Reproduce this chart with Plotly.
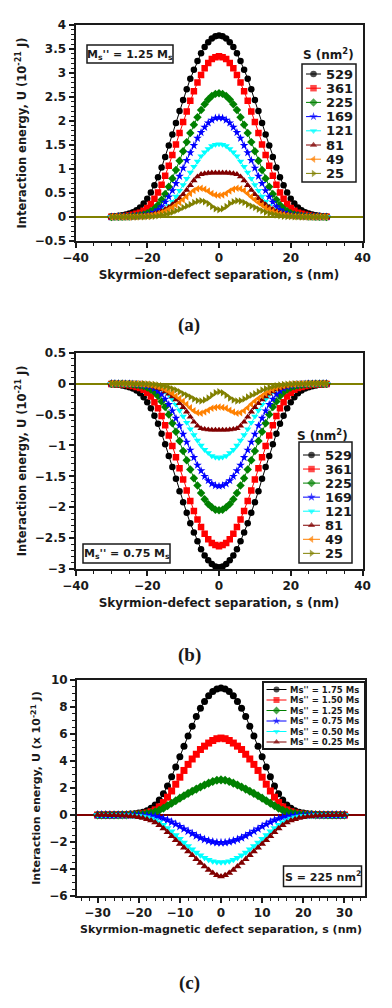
import plotly.graph_objects as go

# separation s (nm); every curve is symmetric in s, so each list holds U for s = 0..30
s = list(range(-30, 31))

sizes = ["529", "361", "225", "169", "121", "81", "49", "25"]
ms_labels = ["1.75", "1.50", "1.25", "0.75", "0.50", "0.25"]

# (a) Ms'' = 1.25 Ms
a_529 = [3.78, 3.765, 3.72, 3.64, 3.54, 3.41, 3.25, 3.07, 2.88, 2.66, 2.44, 2.21, 1.96, 1.72, 1.49, 1.25,
         1.03, 0.83, 0.66, 0.51, 0.38, 0.28, 0.20, 0.14, 0.10, 0.075, 0.053, 0.038, 0.026, 0.018, 0.012]
a_361 = [3.35, 3.33, 3.29, 3.21, 3.10, 2.96, 2.80, 2.62, 2.42, 2.20, 1.98, 1.75, 1.51, 1.29, 1.07, 0.86,
         0.67, 0.51, 0.38, 0.27, 0.19, 0.13, 0.09, 0.067, 0.047, 0.033, 0.023, 0.016, 0.012, 0.008, 0.006]
a_225 = [2.58, 2.565, 2.52, 2.45, 2.35, 2.23, 2.08, 1.92, 1.75, 1.56, 1.37, 1.17, 0.98, 0.80, 0.63, 0.48,
         0.36, 0.25, 0.17, 0.12, 0.08, 0.054, 0.038, 0.026, 0.018, 0.010, 0.008, 0.005, 0.004, 0.003, 0.002]
a_169 = [2.07, 2.06, 2.02, 1.96, 1.87, 1.76, 1.64, 1.49, 1.34, 1.18, 1.02, 0.85, 0.70, 0.55, 0.42, 0.31,
         0.215, 0.147, 0.097, 0.066, 0.043, 0.029, 0.020, 0.014, 0.008, 0.006, 0.004, 0.003, 0.002, 0.001, 0.001]
a_121 = [1.52, 1.51, 1.48, 1.42, 1.35, 1.27, 1.16, 1.05, 0.93, 0.80, 0.67, 0.55, 0.43, 0.32, 0.23, 0.16,
         0.106, 0.070, 0.046, 0.030, 0.020, 0.012, 0.008, 0.005, 0.003, 0.002, 0.001, 0.001, 0.0, 0.0, 0.0]
a_81 = [0.92, 0.92, 0.92, 0.915, 0.905, 0.89, 0.84, 0.76, 0.66, 0.56, 0.47, 0.39, 0.32, 0.26, 0.205, 0.16,
        0.12, 0.088, 0.063, 0.044, 0.03, 0.02, 0.013, 0.008, 0.005, 0.003, 0.002, 0.001, 0.001, 0.0, 0.0]
a_49 = [0.45, 0.46, 0.49, 0.54, 0.58, 0.60, 0.59, 0.55, 0.49, 0.42, 0.36, 0.30, 0.25, 0.20, 0.16, 0.12,
        0.09, 0.065, 0.045, 0.03, 0.02, 0.013, 0.008, 0.005, 0.003, 0.002, 0.001, 0.0, 0.0, 0.0, 0.0]
a_25 = [0.15, 0.17, 0.22, 0.28, 0.32, 0.34, 0.33, 0.30, 0.26, 0.23, 0.20, 0.16, 0.13, 0.10, 0.075, 0.055,
        0.04, 0.028, 0.018, 0.012, 0.008, 0.005, 0.003, 0.002, 0.001, 0.0, 0.0, 0.0, 0.0, 0.0, 0.0]

# (b) Ms'' = 0.75 Ms
b_529 = [-2.97, -2.96, -2.92, -2.86, -2.78, -2.68, -2.55, -2.41, -2.26, -2.09, -1.92, -1.74, -1.54, -1.35,
         -1.17, -0.98, -0.81, -0.65, -0.52, -0.40, -0.30, -0.22, -0.157, -0.11, -0.079, -0.059, -0.042,
         -0.030, -0.020, -0.014, -0.009]
b_361 = [-2.63, -2.61, -2.58, -2.52, -2.43, -2.32, -2.20, -2.06, -1.90, -1.73, -1.55, -1.37, -1.19, -1.01,
         -0.84, -0.675, -0.526, -0.40, -0.30, -0.21, -0.15, -0.10, -0.071, -0.053, -0.037, -0.026, -0.018,
         -0.013, -0.009, -0.006, -0.005]
b_225 = [-2.05, -2.04, -2.00, -1.95, -1.87, -1.77, -1.65, -1.53, -1.39, -1.24, -1.09, -0.93, -0.78, -0.64,
         -0.50, -0.38, -0.29, -0.20, -0.135, -0.095, -0.064, -0.043, -0.030, -0.021, -0.014, -0.008, -0.006,
         -0.004, -0.003, -0.002, -0.002]
b_169 = [-1.66, -1.65, -1.62, -1.57, -1.50, -1.41, -1.32, -1.195, -1.075, -0.946, -0.818, -0.68, -0.56,
         -0.44, -0.337, -0.25, -0.172, -0.118, -0.078, -0.053, -0.034, -0.023, -0.016, -0.011, -0.006, -0.005,
         -0.003, -0.002, -0.002, -0.001, -0.001]
b_121 = [-1.20, -1.19, -1.17, -1.12, -1.07, -1.00, -0.92, -0.83, -0.735, -0.63, -0.53, -0.435, -0.34, -0.253,
         -0.18, -0.126, -0.084, -0.055, -0.036, -0.024, -0.016, -0.009, -0.006, -0.004, -0.002, -0.002,
         -0.001, -0.001, 0.0, 0.0, 0.0]
b_81 = [-0.75, -0.75, -0.75, -0.745, -0.738, -0.725, -0.685, -0.62, -0.54, -0.456, -0.383, -0.318, -0.26,
        -0.212, -0.167, -0.13, -0.098, -0.072, -0.051, -0.036, -0.024, -0.016, -0.011, -0.007, -0.004, -0.002,
        -0.002, -0.001, -0.001, 0.0, 0.0]
b_49 = [-0.38, -0.385, -0.40, -0.43, -0.46, -0.48, -0.47, -0.44, -0.39, -0.335, -0.285, -0.24, -0.20, -0.16,
        -0.128, -0.096, -0.072, -0.052, -0.036, -0.024, -0.016, -0.010, -0.006, -0.004, -0.002, -0.002,
        -0.001, 0.0, 0.0, 0.0, 0.0]
b_25 = [-0.13, -0.15, -0.19, -0.235, -0.265, -0.28, -0.275, -0.25, -0.215, -0.19, -0.165, -0.13, -0.105,
        -0.082, -0.062, -0.045, -0.033, -0.023, -0.015, -0.01, -0.007, -0.004, -0.002, -0.002, -0.001, 0.0,
        0.0, 0.0, 0.0, 0.0, 0.0]

# (c) S = 225 nm^2, varying Ms''
c_175 = [9.40, 9.34, 9.15, 8.84, 8.41, 7.90, 7.29, 6.58, 5.86, 5.09, 4.31, 3.55, 2.83, 2.14, 1.58, 1.12,
         0.75, 0.50, 0.32, 0.21, 0.14, 0.094, 0.066, 0.038, 0.028, 0.019, 0.013, 0.009, 0.006, 0.004, 0.002]
c_150 = [5.70, 5.65, 5.52, 5.33, 5.10, 4.85, 4.50, 4.15, 3.75, 3.30, 2.80, 2.28, 1.78, 1.32, 0.92, 0.60,
         0.38, 0.24, 0.15, 0.09, 0.06, 0.04, 0.03, 0.02, 0.014, 0.01, 0.006, 0.004, 0.002, 0.001, 0.0]
c_125 = [2.60, 2.57, 2.48, 2.36, 2.22, 2.07, 1.92, 1.76, 1.60, 1.43, 1.25, 1.06, 0.87, 0.68, 0.50, 0.35,
         0.23, 0.15, 0.10, 0.06, 0.04, 0.025, 0.016, 0.01, 0.007, 0.005, 0.003, 0.002, 0.001, 0.001, 0.0]
c_075 = [-2.05, -2.04, -1.99, -1.91, -1.81, -1.69, -1.54, -1.38, -1.20, -1.03, -0.85, -0.68, -0.52, -0.38,
         -0.27, -0.18, -0.11, -0.072, -0.045, -0.031, -0.021, -0.012, -0.008, -0.006, -0.004, -0.003, -0.002,
         -0.001, -0.001, 0.0, 0.0]
c_050 = [-3.50, -3.48, -3.42, -3.31, -3.17, -2.99, -2.78, -2.54, -2.29, -2.03, -1.75, -1.48, -1.21, -0.96,
         -0.73, -0.54, -0.385, -0.26, -0.175, -0.115, -0.077, -0.056, -0.035, -0.025, -0.014, -0.010, -0.007,
         -0.005, -0.003, -0.002, -0.001]
c_025 = [-4.55, -4.47, -4.30, -4.08, -3.82, -3.55, -3.27, -2.99, -2.71, -2.43, -2.15, -1.87, -1.58, -1.28,
         -1.00, -0.76, -0.56, -0.41, -0.31, -0.23, -0.17, -0.12, -0.085, -0.06, -0.04, -0.028, -0.019, -0.013,
         -0.008, -0.005, -0.003]


def mirror(h):
    return h[:0:-1] + h


colors = ["#000000", "#ff0000", "#008000", "#0000ff", "#00ffff", "#800000", "#ff8000", "#808000"]
symbols = ["circle", "square", "diamond", "star", "triangle-down", "triangle-up", "triangle-left", "triangle-right"]
FONT = "DejaVu Sans"
INK = "#1a1a1a"

fig = go.Figure()

panels = [
    ("x", "y", [a_529, a_361, a_225, a_169, a_121, a_81, a_49, a_25], 6.5),
    ("x2", "y2", [b_529, b_361, b_225, b_169, b_121, b_81, b_49, b_25], 6.5),
    ("x3", "y3", [c_175, c_150, c_125, c_075, c_050, c_025], 7),
]
for xa, ya, series, msz in panels:
    for h, col, sym in zip(series, colors, symbols):
        fig.add_trace(go.Scatter(
            x=s, y=mirror(h), xaxis=xa, yaxis=ya, mode="lines+markers",
            line=dict(color=col, width=1),
            marker=dict(symbol=sym, size=msz, color=col, line=dict(width=0)),
            showlegend=False, hoverinfo="skip"))

# the page body keeps its default 8px margin, so the figure is drawn inside it
OFF = 8
W, H = 392 - 2 * OFF, 1008 - 2 * OFF


def px_dom_x(x0, x1):
    return [(x0 - OFF) / W, (x1 - OFF) / W]


def px_dom_y(y0, y1):
    return [1 - (y1 - OFF) / H, 1 - (y0 - OFF) / H]


tickfont = dict(family=FONT, size=12, color=INK, weight="bold")


def axis(dom, rng, dtick, mdtick, title, tsize, zcolor=None):
    d = dict(domain=dom, range=rng, dtick=dtick, showline=True, linecolor=INK, linewidth=2,
             mirror=True, ticks="outside", ticklen=5, tickwidth=1.5, tickcolor=INK, showgrid=False,
             tickfont=tickfont, automargin=False,
             title=dict(text=title, standoff=6, font=dict(family=FONT, size=tsize, color=INK, weight="bold")),
             minor=dict(dtick=mdtick, ticks="outside", ticklen=3, tickwidth=1, tickcolor=INK, showgrid=False),
             zeroline=zcolor is not None, fixedrange=True)
    if zcolor:
        d["zerolinecolor"] = zcolor
        d["zerolinewidth"] = 1.5
    return d


ytitle = "Interaction energy, U (10<sup>-21</sup> J)"
xtitle = "Skyrmion-defect separation, s (nm)"
fig.update_layout(
    xaxis=dict(axis(px_dom_x(75.5, 362.5), [-40, 40], 20, 5, xtitle, 12), anchor="y"),
    yaxis=dict(axis(px_dom_y(25, 241), [-0.5, 4], 0.5, 0.1, ytitle, 11.5, "#808000"), anchor="x"),
    xaxis2=dict(axis(px_dom_x(75.5, 362.5), [-40, 40], 20, 5, xtitle, 12), anchor="y2"),
    yaxis2=dict(axis(px_dom_y(352.7, 569), [-3, 0.5], 0.5, 0.1, ytitle, 11.5, "#808000"), anchor="x2"),
    xaxis3=dict(axis(px_dom_x(77, 365), [-35, 35], 10, 2, "Skyrmion-magnetic defect separation, s (nm)", 11), anchor="y3"),
    yaxis3=dict(axis(px_dom_y(680, 896), [-6, 10], 2, 0.5, "Interaction energy, U (x 10<sup>-21</sup> J)", 11, "#800000"), anchor="x3"),
    # overlay in page-pixel coordinates for legends, boxes and panel labels
    xaxis4=dict(domain=[0, 1], range=[OFF, OFF + W], visible=False, anchor="y4", fixedrange=True, automargin=False),
    yaxis4=dict(domain=[0, 1], range=[OFF + H, OFF], visible=False, anchor="x4", fixedrange=True, automargin=False),
)

shapes = []
annotations = []


def label(x, y, text, size, anchor="center", family=FONT):
    annotations.append(dict(x=x, y=y, xref="x4", yref="y4", text=text, showarrow=False,
                            xanchor=anchor, yanchor="middle",
                            font=dict(family=family, size=size, color=INK, weight="bold")))


def box(x0, y0, x1, y1, width=1.5):
    shapes.append(dict(type="rect", xref="x4", yref="y4", x0=x0, y0=y0, x1=x1, y1=y1,
                       line=dict(color=INK, width=width), fillcolor="rgba(255,255,255,0)"))


def legend(labels, cols, syms, lx0, lx1, tx, y0, dy, msz, fsize):
    for i, (lab, col, sym) in enumerate(zip(labels, cols, syms)):
        yy = y0 + i * dy
        fig.add_trace(go.Scatter(
            x=[lx0, (lx0 + lx1) / 2, lx1], y=[yy, yy, yy], xaxis="x4", yaxis="y4",
            mode="lines+markers", line=dict(color=col, width=1),
            marker=dict(symbol=sym, size=[0, msz, 0], color=col, line=dict(width=0)),
            showlegend=False, hoverinfo="skip", cliponaxis=False))
        label(tx, yy, lab, fsize, anchor="left")


# panel (a)
box(302, 64, 356, 182)
label(328.5, 54, "S (nm<sup>2</sup>)", 12)
legend(sizes, colors, symbols, 306, 321, 323.5, 74, 14.2, 6.5, 13)
box(87, 45, 173, 63)
label(130, 54.5, "M<sub>s</sub>'' = 1.25 M<sub>s</sub>", 11)
label(189, 325, "(a)", 19, family="Liberation Serif")

# panel (b)
box(299, 442, 352, 563)
label(322, 435, "S (nm<sup>2</sup>)", 12)
legend(sizes, colors, symbols, 303, 320, 322.5, 455, 14.05, 6.5, 13)
box(83, 544, 170, 563)
label(126.5, 553.5, "M<sub>s</sub>'' = 0.75 M<sub>s</sub>", 11)
label(189, 655, "(b)", 19, family="Liberation Serif")

# panel (c)
box(263, 682, 365, 749, width=2)
legend(["Ms'' = " + m + " Ms" for m in ms_labels], colors[:6], symbols[:6],
       266.5, 286.5, 288, 689.5, 10.5, 6, 8.5)
box(283.5, 866, 361.5, 886.5)
label(322.5, 876.5, "S = 225 nm<sup>2</sup>", 11)
label(189, 983, "(c)", 19, family="Liberation Serif")

fig.update_layout(
    shapes=shapes, annotations=annotations,
    width=W, height=H, margin=dict(l=0, r=0, t=0, b=0, autoexpand=False),
    paper_bgcolor="white", plot_bgcolor="rgba(0,0,0,0)",
    showlegend=False, font=dict(family=FONT, color=INK),
)

fig.write_html("out.html")
